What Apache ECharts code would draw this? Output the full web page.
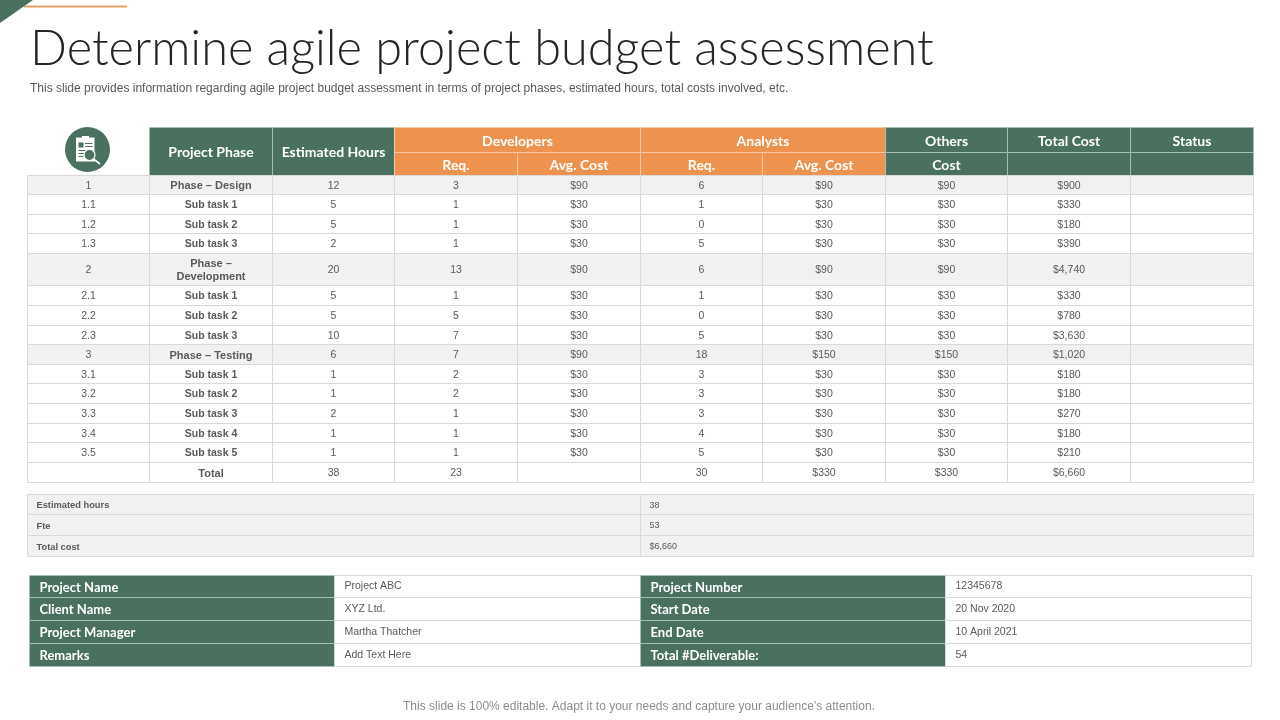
<!DOCTYPE html>
<html>
<head>
<meta charset="utf-8">
<title>Determine agile project budget assessment</title>
<script src="https://cdn.jsdelivr.net/npm/echarts@6/dist/echarts.min.js"></script>
<style>
  html, body { margin: 0; padding: 0; background: #fff; }
  #chart { width: 1280px; height: 720px; }
</style>
</head>
<body>
<div id="chart"></div>
<script>
// table values, one list per column
const rowIds = ["1", "1.1", "1.2", "1.3", "2", "2.1", "2.2", "2.3", "3", "3.1", "3.2", "3.3", "3.4", "3.5", ""];
const phases = ["Phase – Design", "Sub task 1", "Sub task 2", "Sub task 3", "Phase –\nDevelopment", "Sub task 1", "Sub task 2", "Sub task 3", "Phase – Testing", "Sub task 1", "Sub task 2", "Sub task 3", "Sub task 4", "Sub task 5", "Total"];
const hours = ["12", "5", "5", "2", "20", "5", "5", "10", "6", "1", "1", "2", "1", "1", "38"];
const devReq = ["3", "1", "1", "1", "13", "1", "5", "7", "7", "2", "2", "1", "1", "1", "23"];
const devCost = ["$90", "$30", "$30", "$30", "$90", "$30", "$30", "$30", "$90", "$30", "$30", "$30", "$30", "$30", ""];
const anaReq = ["6", "1", "0", "5", "6", "1", "0", "5", "18", "3", "3", "3", "4", "5", "30"];
const anaCost = ["$90", "$30", "$30", "$30", "$90", "$30", "$30", "$30", "$150", "$30", "$30", "$30", "$30", "$30", "$330"];
const others = ["$90", "$30", "$30", "$30", "$90", "$30", "$30", "$30", "$150", "$30", "$30", "$30", "$30", "$30", "$330"];
const totals = ["$900", "$330", "$180", "$390", "$4,740", "$330", "$780", "$3,630", "$1,020", "$180", "$180", "$270", "$180", "$210", "$6,660"];
const status = ["", "", "", "", "", "", "", "", "", "", "", "", "", "", ""];
const phaseRows = [0, 4, 8];
const totalRow = 14;

const summaryLabels = ["Estimated hours", "Fte", "Total cost"];
const summaryValues = ["38", "53", "$6,660"];

const infoLabelsLeft = ["Project Name", "Client Name", "Project Manager", "Remarks"];
const infoValuesLeft = ["Project ABC", "XYZ Ltd.", "Martha Thatcher", "Add Text Here"];
const infoLabelsRight = ["Project Number", "Start Date", "End Date", "Total #Deliverable:"];
const infoValuesRight = ["12345678", "20 Nov 2020", "10 April 2021", "54"];

// row heights in px-like units, two header rows first
const mainRowUnits = [25, 23, 19.6, 19.6, 19.6, 19.6, 32.6, 19.6, 19.6, 19.6, 19.6, 19.6, 19.6, 19.6, 19.6, 19.6, 19.6];

const GREEN = "#4a7060", ORANGE = "#ee934f", LINE = "#d9d9d9", SHADE = "#f1f1f1", TEXT = "#595959";
const HEAD_FONT = "Lato", BODY_FONT = "'Liberation Sans'";

const kinds = {
  blank: { fill: "#fff", stroke: "#fff" },
  green: { fill: GREEN, stroke: "#a5bfb3", color: "#fff", font: `bold 14px ${HEAD_FONT}` },
  orange: { fill: ORANGE, stroke: "#f6c8a3", color: "#fff", font: `bold 14px ${HEAD_FONT}` },
  body: { fill: "#fff", stroke: LINE, color: TEXT, font: `10.5px ${BODY_FONT}` },
  bodyBold: { fill: "#fff", stroke: LINE, color: TEXT, font: `bold 10.5px ${BODY_FONT}` },
  totalBold: { fill: "#fff", stroke: LINE, color: TEXT, font: `bold 11px ${BODY_FONT}` },
  shade: { fill: SHADE, stroke: LINE, color: TEXT, font: `10.5px ${BODY_FONT}` },
  shadeBold: { fill: SHADE, stroke: LINE, color: TEXT, font: `bold 11px ${BODY_FONT}` },
  sumLabel: { fill: SHADE, stroke: LINE, color: TEXT, font: `bold 9.3px ${BODY_FONT}`, left: 9 },
  sumValue: { fill: SHADE, stroke: LINE, color: TEXT, font: `9px ${BODY_FONT}`, left: 9 },
  infoLabel: { fill: GREEN, stroke: "#a5bfb3", color: "#fff", font: `bold 13px ${HEAD_FONT}`, left: 10 },
  infoValue: { fill: "#fff", stroke: LINE, color: TEXT, font: `10.5px ${BODY_FONT}`, left: 10, up: 1 }
};

// cumulative row edges for the main table
const rowEdges = mainRowUnits.reduce((acc, h) => { acc.push(acc[acc.length - 1] + h); return acc; }, [0]);

const mainCells = [];
const addMain = (c0, c1, r0, r1, text, kind) => {
  mainCells.push({ box: [c0, c1, rowEdges[r0], rowEdges[r1]], text, kind });
};
addMain(0, 1, 0, 2, "", "blank");
addMain(1, 2, 0, 2, "Project Phase", "green");
addMain(2, 3, 0, 2, "Estimated Hours", "green");
addMain(3, 5, 0, 1, "Developers", "orange");
addMain(5, 7, 0, 1, "Analysts", "orange");
addMain(3, 4, 1, 2, "Req.", "orange");
addMain(4, 5, 1, 2, "Avg. Cost", "orange");
addMain(5, 6, 1, 2, "Req.", "orange");
addMain(6, 7, 1, 2, "Avg. Cost", "orange");
addMain(7, 8, 0, 1, "Others", "green");
addMain(8, 9, 0, 1, "Total Cost", "green");
addMain(9, 10, 0, 1, "Status", "green");
addMain(7, 8, 1, 2, "Cost", "green");
addMain(8, 9, 1, 2, "", "green");
addMain(9, 10, 1, 2, "", "green");

const columns = [rowIds, phases, hours, devReq, devCost, anaReq, anaCost, others, totals, status];
rowIds.forEach((_, i) => {
  const shaded = phaseRows.includes(i);
  columns.forEach((col, c) => {
    let kind = shaded ? (c === 1 ? "shadeBold" : "shade") : (c === 1 ? "bodyBold" : "body");
    if (i === totalRow && c === 1) kind = "totalBold";
    addMain(c, c + 1, i + 2, i + 3, col[i], kind);
  });
});

const summaryCells = [];
summaryLabels.forEach((label, i) => {
  summaryCells.push({ box: [0, 1, i, i + 1], text: label, kind: "sumLabel" });
  summaryCells.push({ box: [1, 2, i, i + 1], text: summaryValues[i], kind: "sumValue" });
});

const infoCells = [];
infoLabelsLeft.forEach((label, i) => {
  infoCells.push({ box: [0, 1, i, i + 1], text: label, kind: "infoLabel" });
  infoCells.push({ box: [1, 2, i, i + 1], text: infoValuesLeft[i], kind: "infoValue" });
  infoCells.push({ box: [2, 3, i, i + 1], text: infoLabelsRight[i], kind: "infoLabel" });
  infoCells.push({ box: [3, 4, i, i + 1], text: infoValuesRight[i], kind: "infoValue" });
});

const snap = (v) => Math.floor(v) + 0.5;

function cellSeries(gridIndex, cells) {
  return {
    type: "custom",
    xAxisIndex: gridIndex,
    yAxisIndex: gridIndex,
    silent: true,
    animation: false,
    clip: false,
    encode: { x: [0, 1], y: [2, 3] },
    data: cells.map((c) => c.box),
    renderItem(params, api) {
      const cell = cells[params.dataIndex];
      const k = kinds[cell.kind];
      const p0 = api.coord([api.value(0), api.value(2)]);
      const p1 = api.coord([api.value(1), api.value(3)]);
      const x0 = snap(p0[0]), y0 = snap(p0[1]), x1 = snap(p1[0]), y1 = snap(p1[1]);
      const children = [{
        type: "rect",
        shape: { x: x0, y: y0, width: x1 - x0, height: y1 - y0 },
        style: { fill: k.fill, stroke: k.stroke, lineWidth: 1 }
      }];
      if (cell.text) {
        children.push({
          type: "text",
          style: {
            text: cell.text,
            x: k.left ? x0 + k.left : (x0 + x1) / 2,
            y: (y0 + y1) / 2 + 1 - (k.up || 0),
            align: k.left ? "left" : "center",
            verticalAlign: "middle",
            fill: k.color,
            font: k.font,
            lineHeight: 13
          }
        });
      }
      return { type: "group", children };
    }
  };
}

const hiddenX = (max, gridIndex) => ({ type: "value", show: false, min: 0, max, gridIndex });
const hiddenY = (max, gridIndex) => ({ type: "value", show: false, min: 0, max, inverse: true, gridIndex });

const chart = echarts.init(document.getElementById("chart"), null, { renderer: "canvas" });
chart.setOption({
  backgroundColor: "#fff",
  animation: false,
  title: [
    {
      text: "Determine agile project budget assessment",
      left: 30, top: 25, padding: 0,
      textStyle: { fontFamily: "Lato", fontWeight: 300, fontSize: 48.7, color: "#262626" }
    },
    {
      text: "This slide provides information regarding agile project budget assessment in terms of project phases, estimated hours, total costs involved, etc.",
      left: 30, top: 83, padding: 0,
      textStyle: { fontFamily: "Liberation Sans", fontWeight: "normal", fontSize: 12, color: TEXT }
    },
    {
      text: "This slide is 100% editable. Adapt it to your needs and capture your audience's attention.",
      left: 639, top: 701, padding: 0, textAlign: "center",
      textStyle: { fontFamily: "Liberation Sans", fontWeight: "normal", fontSize: 12, color: "#8c8c8c" }
    }
  ],
  grid: [
    { left: 27, top: 127, width: 1226, height: 355 },
    { left: 27, top: 494, width: 1226, height: 62 },
    { left: 29, top: 575, width: 1222, height: 91 }
  ],
  xAxis: [hiddenX(10, 0), hiddenX(2, 1), hiddenX(4, 2)],
  yAxis: [hiddenY(rowEdges[rowEdges.length - 1], 0), hiddenY(3, 1), hiddenY(4, 2)],
  series: [cellSeries(0, mainCells), cellSeries(1, summaryCells), cellSeries(2, infoCells)],
  graphic: [
    // slide corner decoration
    { type: "polygon", shape: { points: [[0, 0], [33, 0], [0, 23]] }, style: { fill: GREEN }, z: 10 },
    { type: "line", shape: { x1: 24, y1: 6.5, x2: 127, y2: 6.5 }, style: { stroke: "#e8a064", lineWidth: 2 }, z: 9 },
    // clipboard icon
    { type: "circle", shape: { cx: 87.5, cy: 149.5, r: 22.5 }, style: { fill: GREEN }, z: 10 },
    { type: "rect", shape: { x: 76, y: 137.5, width: 18.5, height: 24 }, style: { fill: "#fff" }, z: 11 },
    { type: "rect", shape: { x: 82, y: 136, width: 7, height: 2 }, style: { fill: "#fff" }, z: 11 },
    { type: "rect", shape: { x: 78.5, y: 142.5, width: 5, height: 5 }, style: { fill: GREEN }, z: 12 },
    { type: "rect", shape: { x: 85, y: 143, width: 7.5, height: 1 }, style: { fill: GREEN }, z: 12 },
    { type: "rect", shape: { x: 85, y: 146, width: 7.5, height: 1 }, style: { fill: GREEN }, z: 12 },
    { type: "rect", shape: { x: 78.5, y: 150, width: 14, height: 1 }, style: { fill: GREEN }, z: 12 },
    { type: "rect", shape: { x: 78.5, y: 153, width: 6, height: 1 }, style: { fill: GREEN }, z: 12 },
    { type: "rect", shape: { x: 78.5, y: 156, width: 5, height: 1 }, style: { fill: GREEN }, z: 12 },
    { type: "circle", shape: { cx: 89.5, cy: 155, r: 5.5 }, style: { fill: GREEN, stroke: "#fff", lineWidth: 1.2 }, z: 13 },
    { type: "line", shape: { x1: 93.5, y1: 159, x2: 100, y2: 164 }, style: { stroke: "#fff", lineWidth: 1.6 }, z: 13 }
  ]
});
</script>
</body>
</html>
